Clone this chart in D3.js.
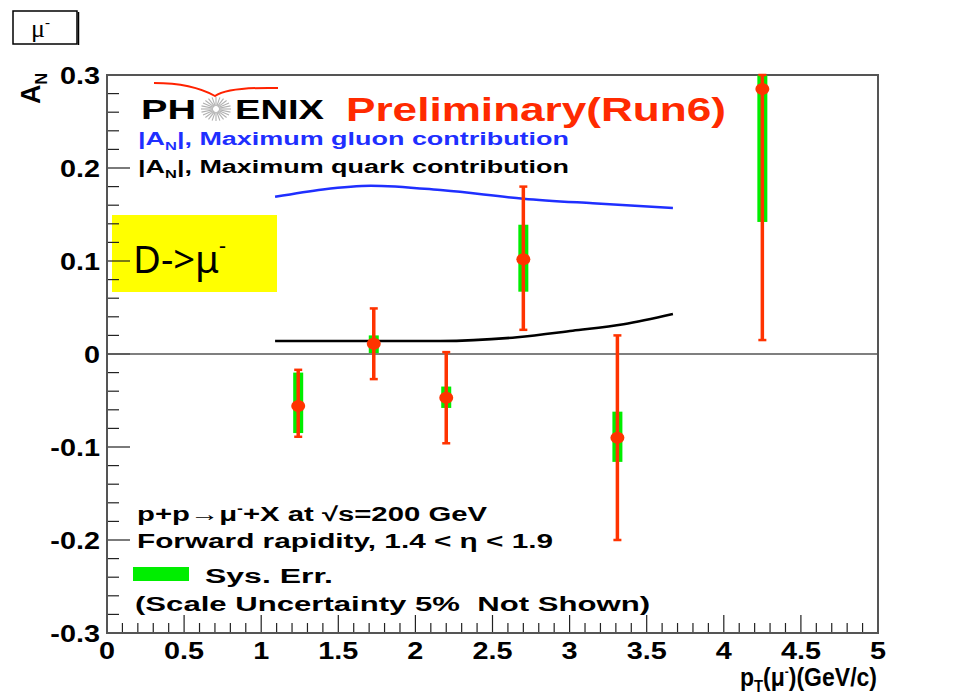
<html>
<head>
<meta charset="utf-8">
<style>
  body { margin: 0; background: #fff; }
  svg { display: block; }
  .lbl { font-family: "Liberation Sans", Arial, sans-serif; font-weight: bold; }
</style>
</head>
<body>
<svg id="chart" width="957" height="694"></svg>
<script src="https://d3js.org/d3.v7.min.js"></script>
<script>
// data points: pT, A_N, stat error range, systematic error range
var ptVals = [1.24, 1.73, 2.20, 2.70, 3.31, 4.25];
var anVals = [-0.056, 0.011, -0.047, 0.102, -0.090, 0.285];
var statLo = [-0.089, -0.027, -0.096, 0.026, -0.200, 0.015];
var statHi = [-0.017, 0.049, 0.002, 0.180, 0.020, 0.300];
var sysLo = [-0.085, 0.001, -0.058, 0.067, -0.116, 0.142];
var sysHi = [-0.020, 0.020, -0.035, 0.139, -0.062, 0.300];

// theory curves
var gluonPt = [1.09, 1.40, 1.71, 2.18, 2.70, 3.15, 3.67];
var gluonAn = [0.169, 0.177, 0.181, 0.176, 0.167, 0.162, 0.157];
var quarkPt = [1.09, 1.60, 2.16, 2.66, 3.02, 3.35, 3.67];
var quarkAn = [0.014, 0.014, 0.014, 0.018, 0.025, 0.032, 0.043];

var xTickLabels = ['0', '0.5', '1', '1.5', '2', '2.5', '3', '3.5', '4', '4.5', '5'];
var yTickLabels = ['-0.3', '-0.2', '-0.1', '0', '0.1', '0.2', '0.3'];

var padL = 107, padR = 878, padT = 75, padB = 633;

var svg = d3.select('#chart');
var x = d3.scaleLinear().domain([0, 5]).range([padL, padR]);
var y = d3.scaleLinear().domain([-0.3, 0.3]).range([padB, padT]);

// the original glyphs are wider than Liberation's, stretch text to fit
function fit(sel, w) {
  sel.attr('textLength', w).attr('lengthAdjust', 'spacingAndGlyphs');
  return sel;
}
function widen(sel, f) {
  sel.each(function() {
    var n = this.getComputedTextLength();
    d3.select(this).attr('textLength', n * f).attr('lengthAdjust', 'spacingAndGlyphs');
  });
}

// small box top-left
svg.append('rect').attr('x', 13).attr('y', 11).attr('width', 64).attr('height', 33)
  .attr('fill', '#fff').attr('stroke', '#000').attr('stroke-width', 1.5);
svg.append('line').attr('x1', 78.5).attr('y1', 12).attr('x2', 78.5).attr('y2', 45)
  .attr('stroke', '#000').attr('stroke-width', 1.5);
svg.append('text').attr('x', 31).attr('y', 37)
  .style('font-family', 'Liberation Serif, serif').style('font-size', '26px')
  .html('&#956;<tspan dy="-10" font-size="15">-</tspan>');

// yellow label
svg.append('rect').attr('x', 112).attr('y', 215).attr('width', 165).attr('height', 77)
  .attr('fill', '#ffff00');
fit(svg.append('text').attr('x', 133).attr('y', 273)
  .style('font-family', 'Noto Sans, Open Sans, sans-serif').style('font-size', '39px')
  .html('D-&gt;&#956;<tspan dy="-20" font-size="22">-</tspan>'), 93);

// minor/major ticks
var xMinor = d3.range(0, 5.001, 0.1);
var yMinor = d3.range(-0.3, 0.3001, 0.02);

svg.append('g').selectAll('line').data(xMinor).enter().append('line')
  .attr('x1', function(d) { return x(d); })
  .attr('x2', function(d) { return x(d); })
  .attr('y1', padB)
  .attr('y2', function(d, i) { return padB - (i % 5 == 0 ? 18 : 10); })
  .attr('stroke', '#222').attr('stroke-width', 1.2);

svg.append('g').selectAll('line').data(yMinor).enter().append('line')
  .attr('y1', function(d) { return y(d); })
  .attr('y2', function(d) { return y(d); })
  .attr('x1', padL)
  .attr('x2', function(d, i) { return padL + (i % 5 == 0 ? 23 : 12); })
  .attr('stroke', '#222').attr('stroke-width', 1.2);

// frame
svg.append('rect').attr('x', padL).attr('y', padT).attr('width', padR - padL).attr('height', padB - padT)
  .attr('fill', 'none').attr('stroke', '#555').attr('stroke-width', 2);

// zero line
svg.append('line').attr('x1', x(0)).attr('x2', x(5)).attr('y1', y(0)).attr('y2', y(0))
  .attr('stroke', '#555').attr('stroke-width', 1.5);

// tick labels
var xl = svg.append('g').selectAll('text').data(xTickLabels).enter().append('text')
  .attr('class', 'lbl')
  .attr('x', function(d) { return x(+d); })
  .attr('y', 659)
  .attr('text-anchor', 'middle')
  .style('font-size', '24px')
  .text(function(d) { return d; });
widen(xl, 1.2);

var yl = svg.append('g').selectAll('text').data(yTickLabels).enter().append('text')
  .attr('class', 'lbl')
  .attr('x', 100)
  .attr('y', function(d) { return y(+d) + 9; })
  .attr('text-anchor', 'end')
  .style('font-size', '24px')
  .text(function(d) { return d; });
widen(yl, 1.2);

// axis titles
svg.append('text').attr('class', 'lbl')
  .attr('transform', 'translate(40,104) rotate(-90)')
  .style('font-size', '27px')
  .html('A<tspan dy="7" font-size="16">N</tspan>');

fit(svg.append('text').attr('class', 'lbl')
  .attr('x', 740).attr('y', 686)
  .style('font-size', '25px')
  .html('p<tspan dy="6" font-size="16">T</tspan><tspan dy="-6">(&#956;</tspan><tspan dy="-10" font-size="13">-</tspan><tspan dy="10">)(GeV/c)</tspan>'), 137);

// theory curves
var line = d3.line()
  .x(function(d) { return x(d[0]); })
  .y(function(d) { return y(d[1]); })
  .curve(d3.curveMonotoneX);

svg.append('path').datum(d3.zip(gluonPt, gluonAn)).attr('d', line)
  .attr('fill', 'none').attr('stroke', '#1f2fff').attr('stroke-width', 2.5);
svg.append('path').datum(d3.zip(quarkPt, quarkAn)).attr('d', line)
  .attr('fill', 'none').attr('stroke', '#000').attr('stroke-width', 2.5);

// data points
var pts = ptVals.map(function(p, i) {
  return { pt: p, an: anVals[i], lo: statLo[i], hi: statHi[i], slo: sysLo[i], shi: sysHi[i] };
});

var g = svg.append('g');
g.selectAll('rect.sys').data(pts).enter().append('rect')
  .attr('class', 'sys')
  .attr('x', function(d) { return x(d.pt) - 5; })
  .attr('width', 10)
  .attr('y', function(d) { return y(d.shi); })
  .attr('height', function(d) { return y(d.slo) - y(d.shi); })
  .attr('fill', '#00ee00');

g.selectAll('line.stat').data(pts).enter().append('line')
  .attr('class', 'stat')
  .attr('x1', function(d) { return x(d.pt); })
  .attr('x2', function(d) { return x(d.pt); })
  .attr('y1', function(d) { return y(d.hi); })
  .attr('y2', function(d) { return y(d.lo); })
  .attr('stroke', '#ff3300').attr('stroke-width', 3.5);

['hi', 'lo'].forEach(function(k) {
  g.selectAll('line.cap' + k).data(pts).enter().append('line')
    .attr('x1', function(d) { return x(d.pt) - 4; })
    .attr('x2', function(d) { return x(d.pt) + 4; })
    .attr('y1', function(d) { return y(d[k]); })
    .attr('y2', function(d) { return y(d[k]); })
    .attr('stroke', '#ff3300').attr('stroke-width', 2.5);
});

g.selectAll('ellipse').data(pts).enter().append('ellipse')
  .attr('cx', function(d) { return x(d.pt); })
  .attr('cy', function(d) { return y(d.an); })
  .attr('rx', 7).attr('ry', 6)
  .attr('fill', '#ff3300');

// PHENIX logo
svg.append('path').attr('d', 'M154,83 Q192,83 215,96 Q228,87 278,88')
  .attr('fill', 'none').attr('stroke', '#ff2200').attr('stroke-width', 2);
var star = svg.append('g').attr('transform', 'translate(216,109)');
d3.range(0, 360, 15).forEach(function(a) {
  var r = a * Math.PI / 180;
  star.append('line').attr('x1', 3 * Math.cos(r)).attr('y1', 3 * Math.sin(r))
    .attr('x2', 15 * Math.cos(r)).attr('y2', 12 * Math.sin(r))
    .attr('stroke', '#b0b0b0').attr('stroke-width', 1.1);
});
fit(svg.append('text').attr('class', 'lbl').attr('x', 141).attr('y', 119)
  .style('font-size', '28px').text('PH'), 55);
fit(svg.append('text').attr('class', 'lbl').attr('x', 235).attr('y', 119)
  .style('font-size', '28px').text('ENIX'), 89);
fit(svg.append('text').attr('class', 'lbl').attr('x', 346).attr('y', 121)
  .attr('fill', '#ff2a00')
  .style('font-size', '33px').text('Preliminary(Run6)'), 380);

// legend lines
fit(svg.append('text').attr('class', 'lbl').attr('x', 138).attr('y', 145)
  .attr('fill', '#1f2fff').style('font-size', '18px')
  .html('|A<tspan dy="5" font-size="11">N</tspan><tspan dy="-5">|, Maximum gluon contribution</tspan>'), 431);
fit(svg.append('text').attr('class', 'lbl').attr('x', 138).attr('y', 173)
  .attr('fill', '#000').style('font-size', '18px')
  .html('|A<tspan dy="5" font-size="11">N</tspan><tspan dy="-5">|, Maximum quark contribution</tspan>'), 431);

// bottom notes
fit(svg.append('text').attr('class', 'lbl').attr('x', 137).attr('y', 521)
  .style('font-size', '20px')
  .html('p+p&#8594;&#956;<tspan dy="-8" font-size="12">-</tspan><tspan dy="8">+X at &#8730;s=200 GeV</tspan>'), 350);
fit(svg.append('text').attr('class', 'lbl').attr('x', 137).attr('y', 548)
  .style('font-size', '20px')
  .text('Forward rapidity, 1.4 < \u03b7 < 1.9'), 416);
svg.append('rect').attr('x', 133).attr('y', 567).attr('width', 56).attr('height', 14)
  .attr('fill', '#00ee00');
fit(svg.append('text').attr('class', 'lbl').attr('x', 205).attr('y', 583)
  .style('font-size', '20px').text('Sys. Err.'), 128);
fit(svg.append('text').attr('class', 'lbl').attr('x', 135).attr('y', 611)
  .style('font-size', '20px')
  .attr('xml:space', 'preserve')
  .text('(Scale Uncertainty 5%  Not Shown)'), 515);
</script>
</body>
</html>
